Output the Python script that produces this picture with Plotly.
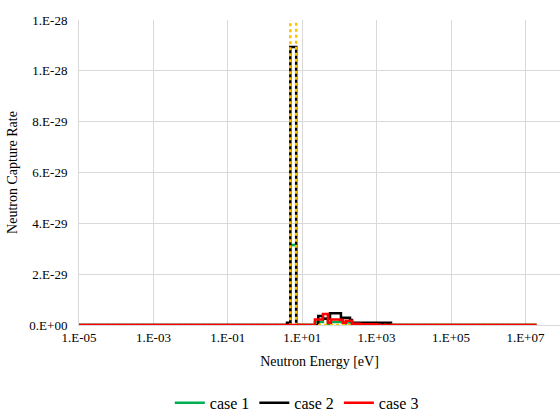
import plotly.graph_objects as go

# Energy group boundaries [eV]
energy_edges = [1e-5, 3.9, 4.8, 6.9, 22, 27, 36, 49, 56, 59, 104, 110, 125,
                150, 193, 218, 247, 358, 1025, 2440, 2e7]

# Group-wise neutron capture rates (one value per group)
case1 = [0, 0.3e-30, 31.5e-30, 0, 1.2e-30, 1.2e-30, 2.5e-30, 0.5e-30, 0.5e-30,
         1.2e-30, 1.2e-30, 1.2e-30, 0.6e-30, 1.0e-30, 1.0e-30, 0.4e-30,
         0.4e-30, 0.2e-30, 0, 0]
case2 = [0, 0.9e-30, 109.4e-30, 0, 0, 3.5e-30, 2.5e-30, 2.5e-30, 4.6e-30,
         4.6e-30, 4.6e-30, 2.9e-30, 2.9e-30, 2.9e-30, 2.0e-30, 0.9e-30,
         0.9e-30, 0.9e-30, 0.9e-30, 0]
case3 = [0, 0, 0, 0, 2.2e-30, 2.2e-30, 4.3e-30, 0.9e-30, 0.9e-30, 2.2e-30,
         2.0e-30, 2.0e-30, 0.9e-30, 1.7e-30, 1.7e-30, 0.5e-30, 0.5e-30,
         0.3e-30, 0, 0]
reference = [0, 0, 300e-30, 0, 0, 0, 0, 0, 0, 0, 0, 0, 0, 0, 0, 0, 0, 0, 0, 0]

x_tick_vals = [1e-5, 1e-3, 1e-1, 1e1, 1e3, 1e5, 1e7]
x_tick_text = ["1.E-05", "1.E-03", "1.E-01", "1.E+01", "1.E+03", "1.E+05", "1.E+07"]
y_tick_vals = [0, 2e-29, 4e-29, 6e-29, 8e-29, 1e-28, 1.2e-28]
y_tick_text = ["0.E+00", "2.E-29", "4.E-29", "6.E-29", "8.E-29", "1.E-28", "1.E-28"]


def step(values):
    # histogram outline: repeat last value so the final group closes at its upper edge
    return list(values) + [values[-1]]


fig = go.Figure()
series = [
    ("case 1", case1, "#00B050", "solid", True),
    ("case 2", case2, "#000000", "solid", True),
    ("reference", reference, "#FFC000", "dot", False),
    ("case 3", case3, "#FF0000", "solid", True),
]
for name, vals, color, dash, show in series:
    fig.add_trace(go.Scatter(
        x=energy_edges, y=step(vals), name=name, mode="lines",
        line=dict(color=color, width=2.5, dash=dash, shape="hv"),
        showlegend=show,
    ))

font = "'Liberation Serif', 'Times New Roman', serif"
fig.update_layout(
    width=560, height=411,
    margin=dict(l=79, r=0, t=20, b=86),
    plot_bgcolor="white", paper_bgcolor="white",
    font=dict(family=font, size=13, color="#000000"),
    legend=dict(orientation="h", xref="container", yref="container",
                x=0.53, xanchor="center", y=0.02, yanchor="middle",
                font=dict(family=font, size=16), itemwidth=30,
                traceorder="normal"),
)
fig.update_xaxes(
    type="log", range=[-5, 7.93],
    tickvals=x_tick_vals, ticktext=x_tick_text,
    tickfont=dict(family=font, size=13),
    showgrid=True, gridcolor="#D9D9D9", gridwidth=1,
    showline=True, linecolor="#D9D9D9", linewidth=1,
    zeroline=False, ticks="",
    title=dict(text="Neutron Energy [eV]", font=dict(family=font, size=14), standoff=12),
)
fig.update_yaxes(
    range=[0, 1.2e-28],
    tickvals=y_tick_vals, ticktext=y_tick_text,
    tickfont=dict(family=font, size=13),
    showgrid=True, gridcolor="#D9D9D9", gridwidth=1,
    showline=True, linecolor="#D9D9D9", linewidth=1,
    zeroline=False, ticks="", ticklabelstandoff=8,
    title=dict(text="Neutron Capture Rate", font=dict(family=font, size=14), standoff=8),
)

fig.write_html("out.html")
